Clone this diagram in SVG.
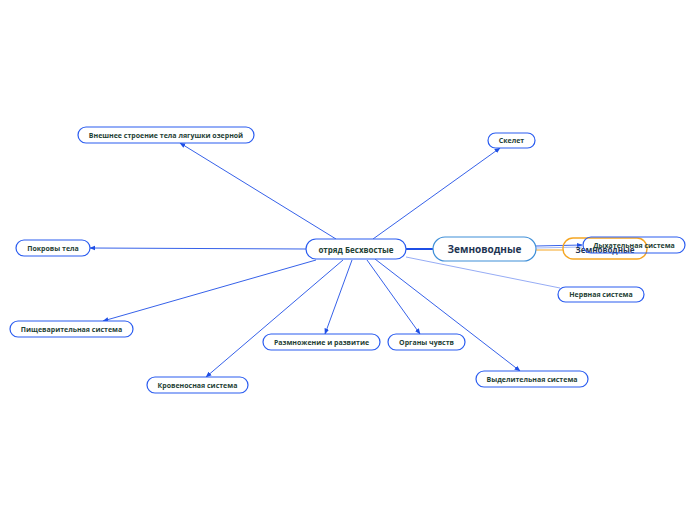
<svg xmlns="http://www.w3.org/2000/svg" width="696" height="520" viewBox="0 0 696 520">
<style>
.n rect{fill:#fff;stroke:#2a5cf0;stroke-width:1.2}
.n text{font-family:"Open Sans","Liberation Sans",sans-serif;font-size:7px;font-weight:700;fill:#1f4236;text-anchor:middle;dominant-baseline:central}
.c line{stroke:#1f4fe6;stroke-width:0.9;fill:none}
</style>
<defs>
<marker id="a" viewBox="0 0 10 10" refX="9" refY="5" markerWidth="6" markerHeight="6" orient="auto" markerUnits="userSpaceOnUse"><path d="M0,1 L10,5 L0,9 z" fill="#1f4fe6"/></marker>
</defs>
<rect width="696" height="520" fill="#fff"/>
<g id="connectors" class="c">
<line x1="406" y1="249" x2="433" y2="249" style="stroke-width:2"/>
<line x1="336" y1="239" x2="180" y2="143" marker-end="url(#a)"/>
<line x1="373" y1="239" x2="500" y2="148" marker-end="url(#a)"/>
<line x1="306" y1="249" x2="90" y2="248" marker-end="url(#a)"/>
<line x1="316" y1="260" x2="103" y2="321" marker-end="url(#a)"/>
<line x1="343" y1="260" x2="206" y2="377" marker-end="url(#a)"/>
<line x1="352" y1="260" x2="325" y2="334" marker-end="url(#a)"/>
<line x1="367" y1="260" x2="420" y2="334" marker-end="url(#a)"/>
<line x1="375" y1="259" x2="520" y2="371" marker-end="url(#a)"/>
<line x1="406" y1="257" x2="560" y2="288" style="stroke:#7b97f2;stroke-width:0.8"/>
<line x1="536" y1="246" x2="582" y2="245" marker-end="url(#a)"/>
<line x1="536" y1="248" x2="582" y2="247" style="stroke:#8aa6f4;stroke-width:0.8"/>
<line x1="536" y1="250" x2="563" y2="250" style="stroke:#f5a623;stroke-width:1"/>
</g>
<g id="n-zem" class="n"><rect x="433" y="237" width="103" height="24" rx="12" style="stroke:#3f8fd8"/><text x="484.5" y="249" style="font-size:10px;font-weight:700;fill:#1e3553">Земноводные</text></g>
<g id="n-otr" class="n"><rect x="306" y="239" width="100" height="20" rx="10"/><text x="356" y="249" style="font-size:8px">отряд Бесхвостые</text></g>
<g id="n-zem2" class="n"><rect x="563" y="238" width="84" height="21" rx="10" style="stroke:#f5a623;stroke-width:1.4;fill:none"/><text x="605" y="249" style="font-size:8px;fill:#1e3553">Земноводные</text></g>
<g id="n-dyh" class="n"><rect x="583" y="237" width="102" height="16" rx="8" style="fill:none"/><text x="634" y="245">Дыхательная система</text></g>
<g id="n-vn" class="n"><rect x="78" y="127" width="176" height="16" rx="8"/><text x="166" y="135">Внешнее строение тела лягушки озерной</text></g>
<g id="n-sk" class="n"><rect x="488" y="133" width="47" height="15" rx="7.5"/><text x="511.5" y="140.5">Скелет</text></g>
<g id="n-pok" class="n"><rect x="16" y="240" width="74" height="16" rx="8"/><text x="53" y="248">Покровы тела</text></g>
<g id="n-pish" class="n"><rect x="10" y="321" width="123" height="16" rx="8"/><text x="71.5" y="329">Пищеварительная система</text></g>
<g id="n-krov" class="n"><rect x="147" y="377" width="101" height="16" rx="8"/><text x="197.5" y="385">Кровеносная система</text></g>
<g id="n-razm" class="n"><rect x="263" y="334" width="117" height="16" rx="8"/><text x="321.5" y="342">Размножение и развитие</text></g>
<g id="n-org" class="n"><rect x="388" y="334" width="77" height="16" rx="8"/><text x="426.5" y="342">Органы чувств</text></g>
<g id="n-vyd" class="n"><rect x="476" y="371" width="112" height="16" rx="8"/><text x="532" y="379">Выделительная система</text></g>
<g id="n-nerv" class="n"><rect x="558" y="287" width="86" height="15" rx="7.5"/><text x="601" y="294.5">Нервная система</text></g>
</svg>
